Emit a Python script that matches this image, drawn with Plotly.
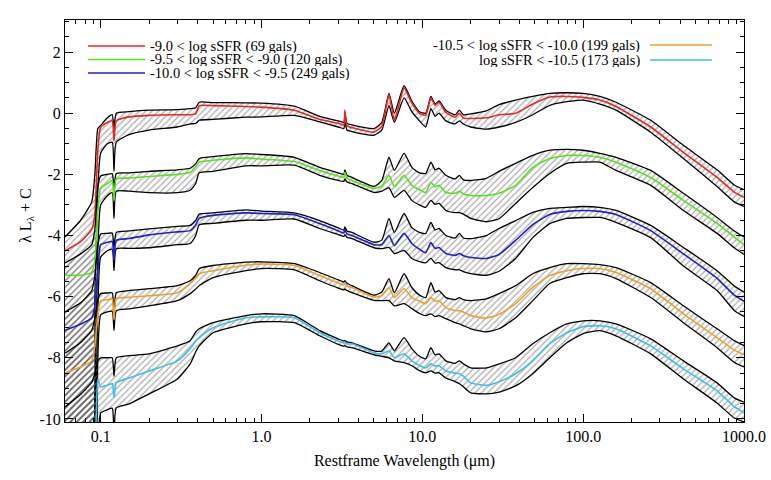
import math
import plotly.graph_objects as go

# ---------------- data ----------------
wavelength = [0.06, 0.075, 0.088, 0.092, 0.096, 0.1, 0.11, 0.118, 0.121, 0.125,
              0.15, 0.2, 0.3, 0.36, 0.39, 0.41, 0.5, 0.8, 1.0, 1.6,
              2.3, 3.0, 3.25, 3.3, 3.4, 3.65, 5.0, 5.6, 6.2, 6.7,
              7.7, 8.6, 9.6, 10.5, 11.3, 12.0, 12.7, 14, 16, 17,
              18, 20, 25, 30, 38, 48.6, 62, 79, 100, 127,
              160, 263, 420, 680, 870, 1000]

red_hi = [-4.05, -3.5, -2.9, -2.0, -0.5, -0.4, -0.15, -0.05, -0.5, 0.0,
          0.05, 0.1, 0.12, 0.15, 0.18, 0.36, 0.35, 0.34, 0.33, 0.23,
          -0.1, -0.25, -0.3, 0.0, -0.33, -0.38, -0.5, -0.3, 0.65, 0.0,
          0.9, 0.4, 0.05, 0.0, 0.55, 0.3, 0.4, 0.1, -0.05, 0.1,
          -0.05, -0.02, 0.08, 0.28, 0.43, 0.55, 0.65, 0.67, 0.65, 0.55,
          0.36, -0.23, -1.05, -1.85, -2.35, -2.5]
red_med = [-4.5, -4.2, -3.8, -3.3, -1.2, -0.45, -0.3, -0.25, -0.9, -0.25,
           -0.12, -0.07, -0.05, -0.05, -0.02, 0.25, 0.25, 0.22, 0.2, 0.1,
           -0.2, -0.33, -0.38, 0.1, -0.42, -0.47, -0.62, -0.42, 0.6, -0.23,
           0.82, 0.33, 0.0, -0.07, 0.5, 0.26, 0.36, 0.03, -0.13, 0.0,
           -0.16, -0.17, -0.15, -0.05, 0.0, 0.3, 0.53, 0.55, 0.52, 0.43,
           0.22, -0.45, -1.28, -2.1, -2.58, -2.75]
red_lo = [-12, -12, -12, -6, -2.5, -1.3, -1.0, -0.95, -1.9, -0.95,
          -0.7, -0.55, -0.45, -0.35, -0.33, -0.23, -0.2, -0.13, -0.12, -0.07,
          -0.28, -0.45, -0.5, -0.25, -0.55, -0.6, -0.72, -0.55, 0.25, -0.3,
          0.5, 0.05, -0.25, -0.45, 0.15, -0.1, 0.0, -0.25, -0.35, -0.25,
          -0.35, -0.45, -0.52, -0.45, -0.3, -0.05, 0.26, 0.38, 0.43, 0.3,
          0.1, -0.62, -1.48, -2.4, -2.9, -3.05]

green_hi = [-4.9, -4.6, -4.3, -3.8, -2.4, -2.05, -2.0, -1.98, -2.5, -1.97,
            -1.95, -1.9, -1.85, -1.8, -1.65, -1.48, -1.42, -1.32, -1.35, -1.44,
            -1.77, -1.95, -2.0, -1.85, -2.03, -2.1, -2.39, -2.2, -1.44, -1.87,
            -1.31, -1.77, -1.95, -1.97, -1.6, -1.85, -1.8, -2.03, -2.15, -2.03,
            -2.18, -2.2, -2.13, -1.9, -1.64, -1.38, -1.21, -1.18, -1.21, -1.31,
            -1.44, -1.87, -2.62, -3.41, -3.85, -4.05]
green_med = [-5.3, -5.3, -5.2, -4.8, -3.2, -2.45, -2.3, -2.2, -2.85, -2.15,
             -2.12, -2.07, -2.0, -1.93, -1.75, -1.6, -1.54, -1.46, -1.5, -1.58,
             -1.87, -2.05, -2.1, -1.93, -2.13, -2.2, -2.46, -2.38, -2.03, -2.4,
             -2.03, -2.36, -2.5, -2.59, -2.26, -2.4, -2.36, -2.59, -2.62, -2.55,
             -2.64, -2.69, -2.69, -2.62, -2.36, -1.77, -1.48, -1.38, -1.38, -1.44,
             -1.6, -2.1, -2.85, -3.6, -4.05, -4.3]
green_lo = [-12, -12, -12, -9, -4.5, -3.0, -2.7, -2.6, -3.44, -2.55,
            -2.55, -2.6, -2.6, -2.52, -2.3, -1.95, -1.9, -1.72, -1.72, -1.7,
            -2.03, -2.2, -2.23, -2.15, -2.25, -2.3, -2.59, -2.55, -2.43, -2.75,
            -2.52, -2.85, -3.0, -3.08, -2.85, -2.98, -2.95, -3.18, -3.25, -3.25,
            -3.3, -3.44, -3.55, -3.45, -2.95, -2.43, -1.97, -1.64, -1.6, -1.6,
            -1.87, -2.36, -3.18, -3.93, -4.4, -4.62]

blue_hi = [-6.5, -6.2, -5.8, -5.3, -4.3, -3.95, -3.93, -3.92, -4.4, -3.9,
           -3.85, -3.78, -3.7, -3.67, -3.5, -3.3, -3.26, -3.16, -3.2, -3.26,
           -3.51, -3.75, -3.82, -3.72, -3.85, -3.9, -4.22, -4.15, -3.44, -3.9,
           -3.28, -3.74, -3.9, -3.93, -3.57, -3.82, -3.77, -4.0, -4.08, -3.93,
           -4.08, -4.1, -4.0, -3.77, -3.51, -3.24, -3.11, -3.08, -3.05, -3.08,
           -3.18, -3.67, -4.39, -5.15, -5.65, -5.85]
blue_med = [-7.1, -6.9, -6.7, -6.3, -5.2, -4.3, -4.22, -4.2, -4.8, -4.16,
            -4.1, -3.98, -3.88, -3.84, -3.65, -3.44, -3.34, -3.26, -3.28, -3.32,
            -3.61, -3.85, -3.92, -3.8, -3.95, -4.0, -4.3, -4.3, -4.0, -4.33,
            -3.93, -4.26, -4.45, -4.56, -4.23, -4.42, -4.39, -4.59, -4.65, -4.59,
            -4.66, -4.72, -4.75, -4.62, -4.16, -3.64, -3.31, -3.21, -3.18, -3.21,
            -3.31, -3.84, -4.6, -5.4, -5.95, -6.15]
blue_lo = [-12, -12, -12, -11, -6.5, -4.7, -4.5, -4.45, -5.15, -4.43,
           -4.42, -4.4, -4.3, -4.26, -4.0, -3.65, -3.6, -3.5, -3.5, -3.46,
           -3.77, -3.97, -4.03, -3.97, -4.06, -4.1, -4.4, -4.43, -4.39, -4.59,
           -4.49, -4.75, -4.85, -4.89, -4.75, -4.9, -4.89, -5.05, -5.12, -5.12,
           -5.18, -5.25, -5.3, -5.17, -4.75, -4.07, -3.61, -3.44, -3.41, -3.41,
           -3.57, -4.07, -5.0, -5.8, -6.45, -6.65]

orange_hi = [-7.85, -7.5, -7.1, -6.7, -6.1, -5.9, -5.88, -5.88, -6.7, -5.87,
             -5.8, -5.74, -5.64, -5.48, -5.3, -5.08, -4.98, -4.87, -4.86, -4.92,
             -5.21, -5.45, -5.52, -5.48, -5.56, -5.64, -5.95, -5.85, -5.41, -5.87,
             -5.25, -5.7, -5.95, -6.03, -5.54, -5.85, -5.8, -6.03, -6.1, -6.03,
             -6.1, -6.13, -6.07, -5.9, -5.64, -5.25, -5.05, -4.92, -4.92, -4.95,
             -5.05, -5.54, -6.3, -7.05, -7.44, -7.6]
orange_med = [-8.5, -8.3, -8.1, -7.6, -6.6, -6.13, -6.1, -6.08, -6.75, -6.07,
              -6.02, -5.97, -5.87, -5.57, -5.4, -5.25, -5.15, -4.97, -4.93, -4.98,
              -5.31, -5.55, -5.62, -5.57, -5.65, -5.7, -6.01, -5.97, -5.7, -6.03,
              -5.74, -6.03, -6.15, -6.23, -6.03, -6.15, -6.13, -6.36, -6.45, -6.46,
              -6.5, -6.62, -6.7, -6.58, -6.23, -5.7, -5.31, -5.15, -5.08, -5.08,
              -5.21, -5.74, -6.56, -7.34, -7.75, -7.9]
orange_lo = [-12, -12, -12, -12, -8.0, -6.6, -6.5, -6.48, -7.1, -6.46,
             -6.4, -6.3, -6.13, -5.9, -5.75, -5.64, -5.38, -5.15, -5.08, -5.12,
             -5.48, -5.72, -5.78, -5.75, -5.8, -5.87, -6.12, -6.13, -6.13, -6.3,
             -6.23, -6.39, -6.55, -6.62, -6.56, -6.65, -6.62, -6.72, -6.85, -6.89,
             -6.95, -7.05, -7.15, -7.05, -6.69, -6.13, -5.57, -5.38, -5.25, -5.25,
             -5.41, -6.03, -6.85, -7.67, -8.15, -8.3]

cyan_hi = [-9.6, -9.2, -8.8, -8.5, -8.1, -8.0, -8.0, -8.0, -8.6, -8.0,
           -7.93, -7.87, -7.61, -7.44, -7.15, -7.05, -6.85, -6.62, -6.56, -6.62,
           -7.11, -7.38, -7.45, -7.43, -7.48, -7.51, -7.77, -7.78, -7.51, -7.77,
           -7.34, -7.7, -7.95, -8.03, -7.67, -7.9, -7.87, -8.1, -8.18, -8.1,
           -8.2, -8.33, -8.33, -8.2, -8.0, -7.54, -7.18, -6.89, -6.79, -6.79,
           -6.89, -7.38, -8.1, -8.82, -9.31, -9.45]
cyan_med = [-11, -11, -11, -10.8, -8.7, -8.95, -8.9, -8.85, -9.3, -8.82,
            -8.66, -8.43, -8.1, -7.7, -7.45, -7.34, -7.02, -6.69, -6.66, -6.69,
            -7.18, -7.45, -7.52, -7.5, -7.55, -7.54, -7.84, -7.87, -7.77, -8.0,
            -7.87, -8.1, -8.25, -8.33, -8.2, -8.27, -8.26, -8.43, -8.5, -8.52,
            -8.6, -8.82, -8.9, -8.78, -8.52, -8.1, -7.54, -7.18, -6.98, -6.95,
            -7.05, -7.61, -8.36, -9.08, -9.6, -9.8]
cyan_lo = [-13, -13, -13, -13, -11, -9.8, -9.7, -9.65, -10.5, -9.64,
           -9.51, -9.18, -8.69, -8.2, -7.8, -7.61, -7.18, -6.89, -6.82, -6.85,
           -7.28, -7.56, -7.62, -7.6, -7.64, -7.67, -7.9, -7.95, -8.0, -8.1,
           -8.16, -8.26, -8.42, -8.49, -8.43, -8.5, -8.49, -8.66, -8.78, -8.85,
           -8.95, -9.15, -9.18, -9.12, -8.92, -8.52, -8.0, -7.51, -7.21, -7.11,
           -7.28, -7.87, -8.69, -9.48, -9.97, -10.1]

labels = ["-9.0 < log sSFR (69 gals)",
          "-9.5 < log sSFR < -9.0 (120 gals)",
          "-10.0 < log sSFR < -9.5 (249 gals)",
          "-10.5 < log sSFR < -10.0 (199 gals)",
          "log sSFR < -10.5 (173 gals)"]
colors = ["#e8281e", "#55e31e", "#1e1ecf", "#f0a028", "#3cc0e4"]

x_tick_vals = [0.1, 1, 10, 100, 1000]
x_tick_text = ["0.1", "1.0", "10.0", "100.0", "1000.0"]
y_tick_vals = [-10, -8, -6, -4, -2, 0, 2]
y_tick_text = ["-10", "-8", "-6", "-4", "-2", "0", "2"]

# ---------------- figure ----------------
W, H = 771, 480
ML, MR, MT, MB = 65, 27, 20, 58
PW, PH = W - ML - MR, H - MT - MB
FONT = "Liberation Serif"

groups = [
    (red_hi, red_med, red_lo),
    (green_hi, green_med, green_lo),
    (blue_hi, blue_med, blue_lo),
    (orange_hi, orange_med, orange_lo),
    (cyan_hi, cyan_med, cyan_lo),
]

LINE = dict(shape="spline", smoothing=0.5)

fig = go.Figure()
for (hi, med, lo), col, lab in zip(groups, colors, labels):
    fig.add_trace(go.Scatter(x=wavelength, y=hi, mode="lines",
                             line=dict(color="black", width=1.3, **LINE),
                             showlegend=False, hoverinfo="skip"))
    fig.add_trace(go.Scatter(x=wavelength, y=lo, mode="lines",
                             line=dict(color="black", width=1.3, **LINE),
                             fill="tonexty", fillcolor="rgba(0,0,0,0)",
                             fillpattern=dict(shape="/", fgcolor="#5a5a5a",
                                              bgcolor="rgba(0,0,0,0)",
                                              size=4.5, solidity=0.28),
                             showlegend=False, hoverinfo="skip"))
    fig.add_trace(go.Scatter(x=wavelength, y=med, mode="lines",
                             line=dict(color=col, width=1.6, **LINE),
                             name=lab, showlegend=False, hoverinfo="skip"))


def px(xp):
    return (xp - ML) / PW


def py(yp):
    return (H - MB - yp) / PH


shapes = []
annotations = []
# left legend block
for i, row_y in enumerate([46, 59.5, 73]):
    shapes.append(dict(type="line", xref="paper", yref="paper",
                       x0=px(88), x1=px(145), y0=py(row_y), y1=py(row_y),
                       line=dict(color=colors[i], width=1.6)))
    annotations.append(dict(xref="paper", yref="paper", x=px(148), y=py(row_y),
                            text=labels[i], showarrow=False, xanchor="left",
                            yanchor="middle", height=13,
                            font=dict(family=FONT, size=14.5, color="black")))
# right legend block
for j, row_y in enumerate([45, 60]):
    i = 3 + j
    shapes.append(dict(type="line", xref="paper", yref="paper",
                       x0=px(650), x1=px(712), y0=py(row_y), y1=py(row_y),
                       line=dict(color=colors[i], width=1.6)))
    annotations.append(dict(xref="paper", yref="paper", x=px(642), y=py(row_y),
                            text=labels[i], showarrow=False, xanchor="right",
                            yanchor="middle", height=14,
                            font=dict(family=FONT, size=14.5, color="black")))

# y-axis title placed as a rotated annotation
annotations.append(dict(xref="paper", yref="paper", x=px(26), y=py(216),
                        text="\u03bb L<sub>\u03bb</sub> + C", showarrow=False,
                        textangle=-90, xanchor="center", yanchor="middle",
                        font=dict(family=FONT, size=16, color="black")))

minor_x = [m * 10 ** e for e in range(-2, 3) for m in range(2, 10)]
minor_x = [v for v in minor_x if 0.06 <= v <= 1000]

fig.update_layout(
    width=W, height=H,
    margin=dict(l=ML, r=MR, t=MT, b=MB, autoexpand=False),
    paper_bgcolor="white", plot_bgcolor="white",
    font=dict(family=FONT, size=16, color="black"),
    shapes=shapes, annotations=annotations,
    showlegend=False, hovermode=False,
    xaxis=dict(type="log", range=[math.log10(0.06), 3.0], automargin=False,
               tickvals=x_tick_vals, ticktext=x_tick_text,
               ticks="inside", ticklen=8, tickwidth=1, tickcolor="black",
               showline=True, linecolor="black", linewidth=1, mirror="ticks",
               showgrid=False, zeroline=False,
               minor=dict(tickvals=minor_x, ticks="inside", ticklen=4,
                          tickcolor="black", showgrid=False),
               tickfont=dict(family=FONT, size=16),
               title=dict(text="Restframe Wavelength (\u03bcm)",
                          font=dict(family=FONT, size=16), standoff=10)),
    yaxis=dict(range=[-10.1, 3.05], automargin=False,
               tickvals=y_tick_vals, ticktext=y_tick_text,
               ticks="inside", ticklen=8, tickwidth=1, tickcolor="black",
               showline=True, linecolor="black", linewidth=1, mirror="ticks",
               showgrid=False, zeroline=False,
               minor=dict(dtick=0.5, ticks="inside", ticklen=4,
                          tickcolor="black", showgrid=False),
               tickfont=dict(family=FONT, size=16)),
)

fig.write_html("out.html",
               config={"displayModeBar": False},
               post_script="document.body.style.margin='0';"
                           "document.body.style.padding='0';")
